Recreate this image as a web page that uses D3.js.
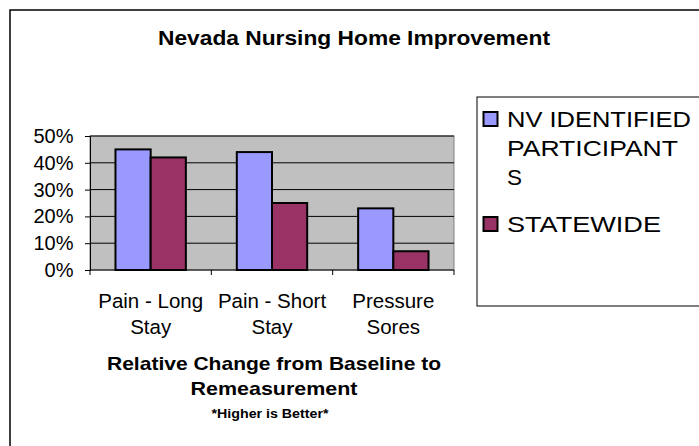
<!DOCTYPE html>
<html><head><meta charset="utf-8">
<script src="https://cdn.jsdelivr.net/npm/d3@7"></script>
<style>body{margin:0;background:#fff}svg{display:block}text{font-family:"Liberation Sans",Arial,sans-serif}</style>
</head><body>
<svg id="c" width="699" height="446"></svg>
<script>
const categories = [["Pain - Long","Stay"],["Pain - Short","Stay"],["Pressure","Sores"]];
const seriesNames = ["NV IDENTIFIED PARTICIPANTS","STATEWIDE"];
const nvValues = [0.45, 0.44, 0.23];
const statewideValues = [0.42, 0.25, 0.07];
const yTicks = [0, 0.1, 0.2, 0.3, 0.4, 0.5];
const colors = ["#9999FF","#993366"];

const svg = d3.select("#c");
svg.append("rect").attr("x",10).attr("y",10).attr("width",700).attr("height",450)
  .attr("fill","#fff").attr("stroke","#000").attr("stroke-width",1.5);

svg.append("text").attr("x",354).attr("y",45).attr("text-anchor","middle")
  .attr("font-size",20.5).attr("font-weight","bold")
  .attr("textLength",392).attr("lengthAdjust","spacingAndGlyphs")
  .text("Nevada Nursing Home Improvement");

const L=90,R=454,T=136,B=270;
const x = d3.scaleBand().domain(d3.range(categories.length)).range([L,R]).paddingInner(0.42).paddingOuter(0.21);
const xs = d3.scaleBand().domain([0,1]).range([0,x.bandwidth()]);
const y = d3.scaleLinear().domain([0,0.5]).range([B,T]);

svg.append("rect").attr("x",L).attr("y",T).attr("width",R-L).attr("height",B-T)
  .attr("fill","#C0C0C0").attr("stroke","#808080").attr("stroke-width",1);

svg.append("g").selectAll("line").data(yTicks.filter(d=>d>0)).join("line")
  .attr("x1",L).attr("x2",R).attr("y1",d=>y(d)).attr("y2",d=>y(d))
  .attr("stroke","#000").attr("stroke-width",1);

const data = categories.map((c,i)=>[nvValues[i],statewideValues[i]]);
const g = svg.append("g");
data.forEach((vals,i)=>{
  vals.forEach((v,j)=>{
    g.append("rect").attr("x",x(i)+xs(j)).attr("y",y(v)).attr("width",xs.bandwidth())
      .attr("height",y(0)-y(v)).attr("fill",colors[j]).attr("stroke","#000").attr("stroke-width",2);
  });
});

const yAxis = d3.axisLeft(y).tickValues(yTicks).tickFormat(d3.format(".0%")).tickSize(5).tickPadding(11.5);
const ga = svg.append("g").attr("transform",`translate(${L},0)`).call(yAxis);
ga.select(".domain").attr("stroke","#000");
ga.selectAll(".tick line").attr("stroke","#000");
ga.selectAll("text").attr("font-size",20).attr("fill","#000").style("font-family","Liberation Sans, Arial");

// x axis
const gx = svg.append("g");
gx.append("line").attr("x1",L).attr("x2",R).attr("y1",B).attr("y2",B).attr("stroke","#000");
d3.range(categories.length+1).forEach(i=>{
  const xp = L + i*(R-L)/categories.length;
  gx.append("line").attr("x1",xp).attr("x2",xp).attr("y1",B).attr("y2",B+5).attr("stroke","#000");
});
categories.forEach((c,i)=>{
  const cx = x(i)+x.bandwidth()/2;
  const t = gx.append("text").attr("text-anchor","middle").attr("font-size",20.5);
  c.forEach((ln,k)=>t.append("tspan").attr("x",cx).attr("y",307.5+k*26).text(ln));
});

const mid=(L+R)/2+2;
svg.append("text").attr("x",mid).attr("y",370).attr("text-anchor","middle").attr("font-size",19).attr("font-weight","bold")
  .attr("textLength",334).attr("lengthAdjust","spacingAndGlyphs").text("Relative Change from Baseline to");
svg.append("text").attr("x",mid).attr("y",395).attr("text-anchor","middle").attr("font-size",19).attr("font-weight","bold")
  .attr("textLength",167).attr("lengthAdjust","spacingAndGlyphs").text("Remeasurement");
svg.append("text").attr("x",mid-4).attr("y",418).attr("text-anchor","middle").attr("font-size",12).attr("font-weight","bold")
  .attr("textLength",117).attr("lengthAdjust","spacingAndGlyphs").text("*Higher is Better*");

// legend
svg.append("rect").attr("x",477).attr("y",97).attr("width",240).attr("height",209)
  .attr("fill","#fff").attr("stroke","#000").attr("stroke-width",1);
const legLines = [["NV IDENTIFIED","PARTICIPANT","S"],["STATEWIDE"]];
const legLens = [[184,171,null],[154]];
const legTop = [112, 217];
legLines.forEach((lines,j)=>{
  svg.append("rect").attr("x",483.5).attr("y",legTop[j]).attr("width",14).attr("height",14)
    .attr("fill",colors[j]).attr("stroke","#000").attr("stroke-width",2);
  lines.forEach((ln,k)=>{
    const t = svg.append("text").attr("font-size",22.5).attr("x",507).attr("y",legTop[j]+15+k*29).text(ln);
    if (legLens[j][k]) t.attr("textLength",legLens[j][k]).attr("lengthAdjust","spacingAndGlyphs");
  });
});
</script>
</body></html>
